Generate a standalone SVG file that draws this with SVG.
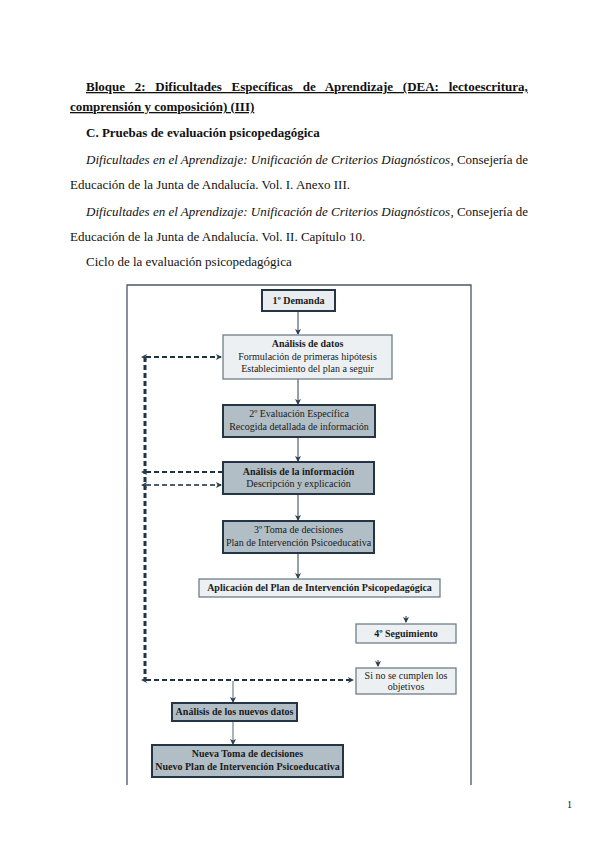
<svg xmlns="http://www.w3.org/2000/svg" width="599" height="848" viewBox="0 0 599 848">
<style>
.t{font-family:"Liberation Serif","Times New Roman",serif;fill:#111;}
.h{font-size:13px;}
.d{font-family:"Liberation Serif","Times New Roman",serif;font-size:10px;fill:#1a1a1a;text-anchor:middle;}
.b{font-weight:bold;}
.dark{fill:#b2bec6;stroke:#253546;stroke-width:2;}
.darkl{fill:#e9edf0;stroke:#253546;stroke-width:2;}
.light{fill:#edf0f2;stroke:#6f7d88;stroke-width:1.3;}
.ln{stroke:#2c3e50;stroke-width:1;fill:none;}
.gl{stroke:#7f8b94;stroke-width:1.3;fill:none;}
.dash{stroke:#1f3347;stroke-width:2;stroke-dasharray:5,3;fill:none;}
.dashg{stroke:#4a5e70;stroke-width:2;stroke-dasharray:5,3;fill:none;}
.vdash{stroke:#1f3347;stroke-width:3;stroke-dasharray:5,3;fill:none;}
</style>
<defs>
<marker id="ah" markerWidth="6" markerHeight="6" refX="5" refY="3" orient="auto" markerUnits="userSpaceOnUse">
<path d="M0,0 L6,3 L0,6 L1.5,3 Z" fill="#2c3e50"/>
</marker>
<marker id="ahs" markerWidth="6" markerHeight="6" refX="1" refY="3" orient="auto-start-reverse" markerUnits="userSpaceOnUse">
<path d="M0,0 L6,3 L0,6 L1.5,3 Z" fill="#2c3e50"/>
</marker>
</defs>
<rect width="599" height="848" fill="#fff"/>
<g id="header">
<text class="t h b" x="86" y="91" word-spacing="6.5" text-decoration="underline">Bloque 2: Dificultades Específicas de Aprendizaje (DEA: lectoescritura,</text>
<text class="t h b" x="70" y="111" text-decoration="underline">comprensión y composición) (III)</text>
<text class="t h b" x="86" y="137">C. Pruebas de evaluación psicopedagógica</text>
<text class="t h" x="86" y="164" font-style="italic" textLength="364" lengthAdjust="spacing">Dificultades en el Aprendizaje: Unificación de Criterios Diagnósticos</text>
<text class="t h" x="528" y="164" text-anchor="end">, Consejería de</text>
<text class="t h" x="70" y="189">Educación de la Junta de Andalucía. Vol. I. Anexo III.</text>
<text class="t h" x="86" y="216" font-style="italic" textLength="364" lengthAdjust="spacing">Dificultades en el Aprendizaje: Unificación de Criterios Diagnósticos</text>
<text class="t h" x="528" y="216" text-anchor="end">, Consejería de</text>
<text class="t h" x="70" y="241">Educación de la Junta de Andalucía. Vol. II. Capítulo 10.</text>
<text class="t h" x="86" y="266">Ciclo de la evaluación psicopedagógica</text>
</g>
<g id="frame">
<path d="M127,785 L127,285 L471,285 L471,785" stroke="#4a5866" stroke-width="1.3" fill="none"/>
</g>
<g id="connectors">
<line class="ln" x1="298" y1="311" x2="298" y2="334" marker-end="url(#ah)"/>
<line class="ln" x1="298" y1="379" x2="298" y2="404" marker-end="url(#ah)"/>
<line class="ln" x1="298" y1="437" x2="298" y2="461" marker-end="url(#ah)"/>
<line class="ln" x1="298" y1="494" x2="298" y2="520" marker-end="url(#ah)"/>
<line class="ln" x1="298" y1="553" x2="298" y2="578" marker-end="url(#ah)"/>
<line class="ln" x1="406" y1="616" x2="406" y2="622" marker-end="url(#ah)"/>
<line class="ln" x1="378" y1="660" x2="378" y2="666" marker-end="url(#ah)"/>
<line class="vdash" x1="145" y1="357" x2="145" y2="681"/>
<line class="dash" x1="146" y1="357" x2="221" y2="357" marker-start="url(#ahs)" marker-end="url(#ah)"/>
<line class="dash" x1="146" y1="472" x2="223" y2="472" marker-start="url(#ahs)"/>
<line class="dashg" x1="146" y1="485" x2="221" y2="485" marker-start="url(#ahs)" marker-end="url(#ah)"/>
<line class="dash" x1="146" y1="680" x2="353" y2="680" marker-start="url(#ahs)" marker-end="url(#ah)"/>
<line class="gl" x1="233" y1="681" x2="233" y2="702" marker-end="url(#ah)"/>
<line class="gl" x1="233" y1="721" x2="233" y2="744" marker-end="url(#ah)"/>
</g>
<g id="n1">
<rect class="darkl" x="262" y="290" width="73" height="21"/>
<text class="d b" x="298.5" y="304">1º Demanda</text>
</g>
<g id="n2">
<rect class="light" x="223" y="335" width="169" height="44"/>
<text class="d b" x="307.5" y="347" font-size="8.5">Análisis de datos</text>
<text class="d" x="307.5" y="360">Formulación de primeras hipótesis</text>
<text class="d" x="307.5" y="372">Establecimiento del plan a seguir</text>
</g>
<g id="n3">
<rect class="dark" x="223" y="405" width="152" height="32"/>
<text class="d" x="299" y="417">2º Evaluación Específica</text>
<text class="d" x="299" y="430">Recogida detallada de información</text>
</g>
<g id="n4">
<rect class="dark" x="223" y="462" width="151" height="32"/>
<text class="d b" x="298.5" y="475">Análisis de la información</text>
<text class="d" x="298.5" y="487">Descripción y explicación</text>
</g>
<g id="n5">
<rect class="dark" x="223" y="521" width="151" height="32"/>
<text class="d" x="298.5" y="533">3º Toma de decisiones</text>
<text class="d" x="298.5" y="546">Plan de Intervención Psicoeducativa</text>
</g>
<g id="n6">
<rect class="light" x="199" y="579" width="241" height="18"/>
<text class="d b" x="319.5" y="591" font-size="9.6">Aplicación del Plan de Intervención Psicopedagógica</text>
</g>
<g id="n7">
<rect class="light" x="356" y="624" width="100" height="19"/>
<text class="d b" x="406" y="637">4º Seguimiento</text>
</g>
<g id="n8">
<rect class="light" x="356" y="668" width="100" height="26"/>
<text class="d" x="406" y="679">Si no se cumplen los</text>
<text class="d" x="406" y="690">objetivos</text>
</g>
<g id="n9">
<rect class="dark" x="172" y="703" width="125" height="18"/>
<text class="d b" x="234.5" y="715">Análisis de los nuevos datos</text>
</g>
<g id="n10">
<rect class="dark" x="152" y="745" width="191" height="32"/>
<text class="d b" x="247.5" y="757">Nueva Toma de decisiones</text>
<text class="d b" x="247.5" y="770" font-size="9">Nuevo Plan de Intervención Psicoeducativa</text>
</g>
<text class="t" x="567" y="808" font-size="10">1</text>
</svg>
